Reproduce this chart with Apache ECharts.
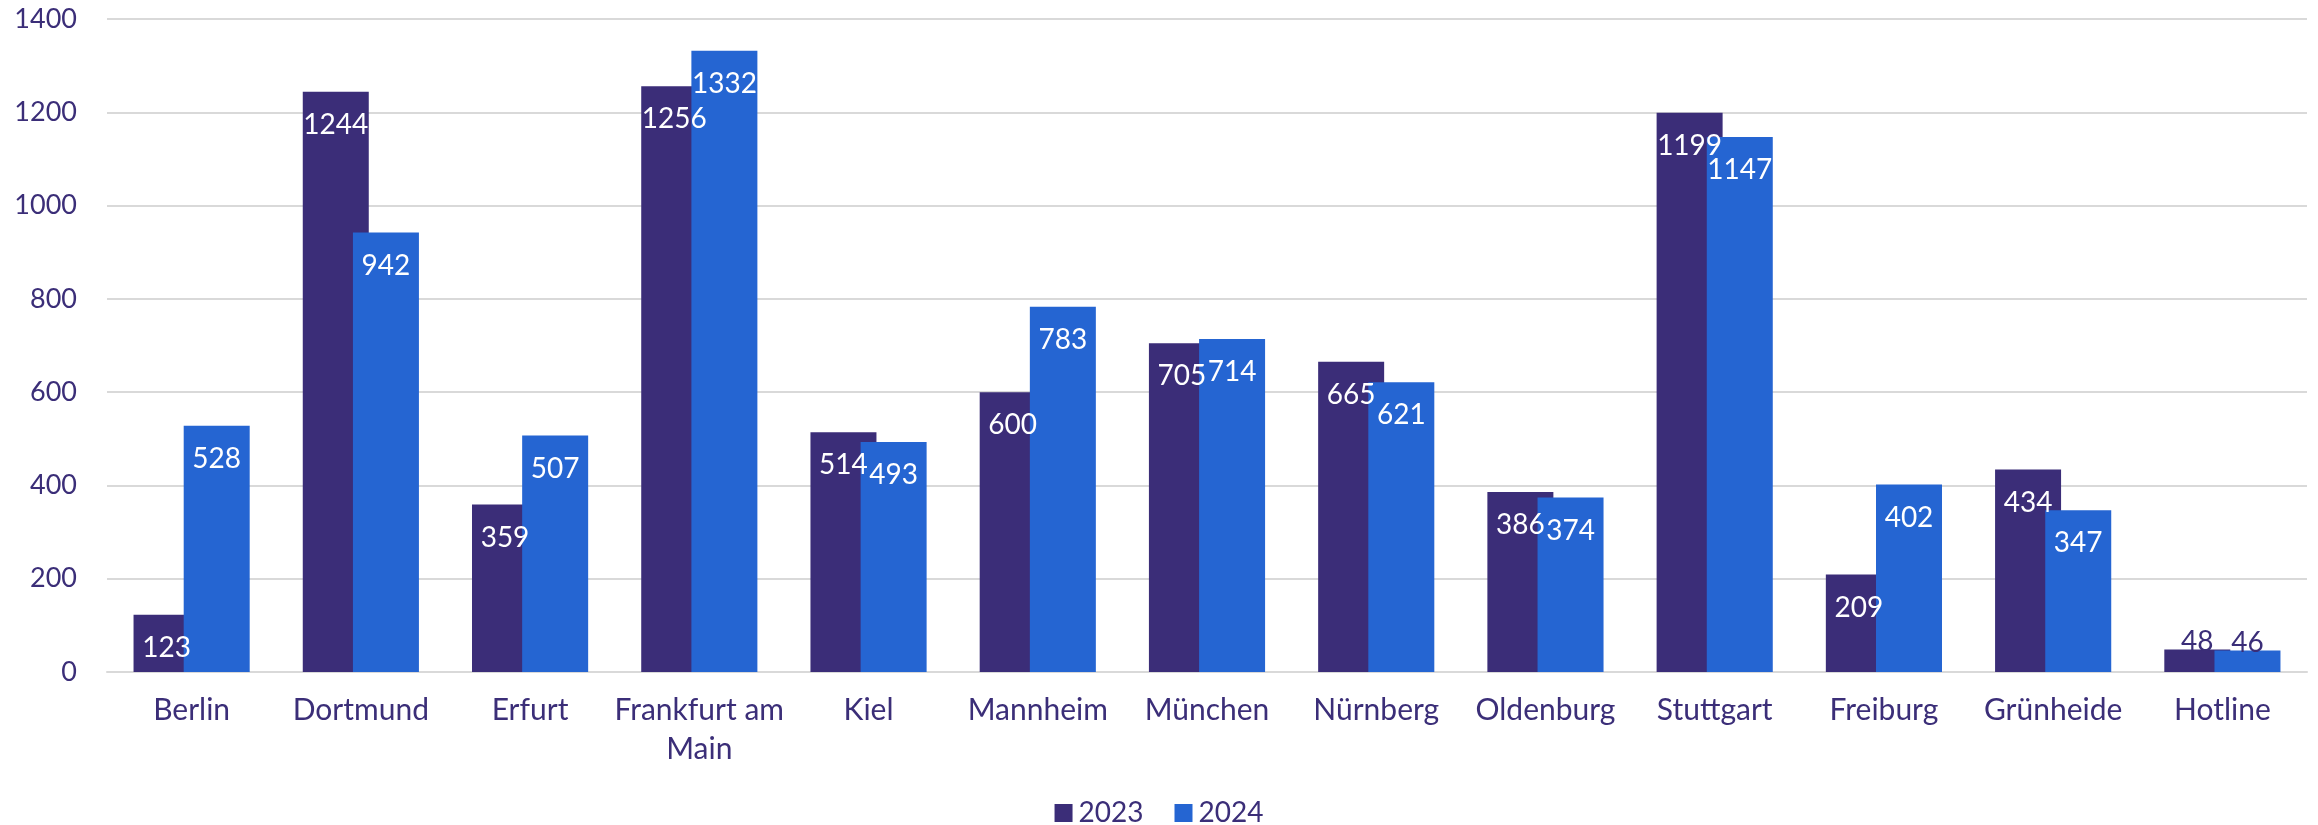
<!DOCTYPE html>
<html>
<head>
<meta charset="utf-8">
<script src="https://cdn.jsdelivr.net/npm/echarts@6/dist/echarts.min.js"></script>
<style>
  html, body { margin: 0; padding: 0; background: #fff; }
  #chart { width: 2318px; height: 825px; }
</style>
</head>
<body>
<div id="chart"></div>
<script>
// Standorte und Werte
var categories = ['Berlin', 'Dortmund', 'Erfurt', 'Frankfurt am Main', 'Kiel', 'Mannheim', 'München',
    'Nürnberg', 'Oldenburg', 'Stuttgart', 'Freiburg', 'Grünheide', 'Hotline'];
var values2023 = [123, 1244, 359, 1256, 514, 600, 705, 665, 386, 1199, 209, 434, 48];
var values2024 = [528, 942, 507, 1332, 493, 783, 714, 621, 374, 1147, 402, 347, 46];
var seriesNames = ['2023', '2024'];

var textColor = '#3b2e78';
var fontFamily = 'Lato';
var fontSize = 27;

// kurze Balken (Hotline) bekommen das Label oberhalb
function toData(arr) {
    return arr.map(function (v) {
        if (v < 100) {
            return { value: v, label: { position: 'top', distance: -6, color: textColor } };
        }
        return v;
    });
}

var chartDom = document.getElementById('chart');
var myChart = echarts.init(chartDom);

var labelOpt = {
    show: true,
    position: 'insideTop',
    distance: 19,
    color: '#ffffff',
    fontFamily: fontFamily,
    fontSize: 28
};

var option = {
    animation: false,
    textStyle: { fontFamily: fontFamily },
    grid: { left: 107, right: 11, top: 19, bottom: 153 },
    legend: {
        data: seriesNames,
        top: 794,
        left: 'center',
        itemWidth: 18,
        itemHeight: 18,
        itemGap: 31,
        icon: 'rect',
        textStyle: { color: textColor, fontSize: 28, fontFamily: fontFamily, padding: [0, 0, 0, 1] }
    },
    xAxis: {
        type: 'category',
        data: categories,
        axisLine: { lineStyle: { color: '#d9d9d9', width: 2 } },
        axisTick: { show: false },
        axisLabel: {
            color: textColor,
            fontSize: 30,
            fontFamily: fontFamily,
            margin: 19,
            lineHeight: 39,
            interval: 0,
            formatter: function (v) { return v.replace(' am ', ' am\n'); }
        }
    },
    yAxis: {
        type: 'value',
        min: 0,
        max: 1400,
        interval: 200,
        axisLine: { show: false },
        axisTick: { show: false },
        splitLine: { lineStyle: { color: '#d9d9d9', width: 2 } },
        axisLabel: {
            color: textColor, fontSize: fontSize, fontFamily: fontFamily, margin: 30,
            formatter: function (v) { return String(v); }
        }
    },
    series: [
        {
            name: seriesNames[0],
            type: 'bar',
            data: toData(values2023),
            barWidth: 66,
            barGap: '-24%',
            itemStyle: { color: '#3b2d78' },
            label: labelOpt
        },
        {
            name: seriesNames[1],
            type: 'bar',
            data: toData(values2024),
            barWidth: 66,
            barGap: '-24%',
            itemStyle: { color: '#2565d2' },
            label: labelOpt
        }
    ]
};

option && myChart.setOption(option);
</script>
</body>
</html>
